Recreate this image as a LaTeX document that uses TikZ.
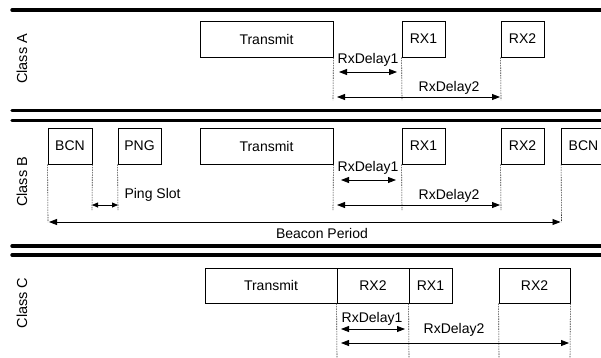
\documentclass[tikz,border=0pt]{standalone}
\usepackage{fontspec}
\setmainfont{Liberation Sans}
\usetikzlibrary{arrows.meta}
\begin{document}
\begin{tikzpicture}[x=1pt,y=-1pt,
  font=\fontsize{14}{16}\selectfont,
  sep/.style={line width=3.4pt,line cap=round},
  slot/.style={draw,line width=0.8pt,inner sep=0pt,minimum height=36pt},
  guide/.style={line width=0.6pt,dash pattern=on 1.5pt off 1pt,black!80},
  dim/.style={line width=0.8pt,{Triangle[length=8pt,width=6pt]}-{Triangle[length=8pt,width=6pt]}},
  cls/.style={rotate=90,font=\fontsize{14.5}{16}\selectfont}]
\useasboundingbox (0,0) rectangle (601,357);
\clip (0,0) rectangle (601,357);
% separators
\coordinate (s1l) at (12,10);    \coordinate (s1r) at (610,10);
\coordinate (s2l) at (12,110.5); \coordinate (s2r) at (610,110.5);
\coordinate (s3l) at (12,120.5); \coordinate (s3r) at (610,120.5);
\coordinate (s4l) at (12,246);   \coordinate (s4r) at (610,246);
\coordinate (s5l) at (12,255);   \coordinate (s5r) at (610,255);
\draw[sep] (s1l) -- (s1r);
\draw[sep] (s2l) -- (s2r);
\draw[sep] (s3l) -- (s3r);
\draw[sep] (s4l) -- (s4r);
\draw[sep] (s5l) -- (s5r);
% class labels
\node[cls] (lA) at (22,59) {Class A};
\node[cls] (lB) at (22,182) {Class B};
\node[cls] (lC) at (22,303) {Class C};
% ---------- Class A ----------
\node[slot,minimum width=133pt] (txA) at (266.5,39) {Transmit};
\node[slot,minimum width=43pt] (rx1A) at (423.5,39) {RX1};
\node[slot,minimum width=43pt] (rx2A) at (522.5,39) {RX2};
\coordinate (gA1) at (333,100); \coordinate (gA2) at (402,100); \coordinate (gA3) at (501,100);
\draw[guide] (txA.south east) -- (gA1);
\draw[guide] (rx1A.south west) -- (gA2);
\draw[guide] (rx2A.south west) -- (gA3);
\coordinate (dA1l) at (339,72); \coordinate (dA1r) at (397,72);
\coordinate (dA2l) at (337,97); \coordinate (dA2r) at (500,97);
\draw[dim] (dA1l) -- (dA1r);
\draw[dim] (dA2l) -- (dA2r);
\node (tA1) at (368,60) {RxDelay1};
\node (tA2) at (449,88) {RxDelay2};
% ---------- Class B ----------
\node[slot,minimum width=44pt] (bcn1) at (70,146) {BCN};
\node[slot,minimum width=43pt] (png) at (139.5,146) {PNG};
\node[slot,minimum width=133pt] (txB) at (266.5,146) {Transmit};
\node[slot,minimum width=43pt] (rx1B) at (423.5,146) {RX1};
\node[slot,minimum width=43pt] (rx2B) at (522.5,146) {RX2};
\node[slot,minimum width=44pt] (bcn2) at (583.5,146) {BCN};
\coordinate (gB1) at (48,222); \coordinate (gB2) at (92,210); \coordinate (gB3) at (118,210);
\coordinate (gB4) at (333,210); \coordinate (gB5) at (402,210); \coordinate (gB6) at (501,210);
\coordinate (gB7) at (561.5,222);
\draw[guide] (bcn1.south west) -- (gB1);
\draw[guide] (bcn1.south east) -- (gB2);
\draw[guide] (png.south west) -- (gB3);
\draw[guide] (txB.south east) -- (gB4);
\draw[guide] (rx1B.south west) -- (gB5);
\draw[guide] (rx2B.south west) -- (gB6);
\draw[guide] (bcn2.south west) -- (gB7);
\coordinate (pl) at (92,205); \coordinate (pr) at (118,205);
\draw[dim,{Triangle[length=6pt,width=5pt]}-{Triangle[length=6pt,width=5pt]}] (pl) -- (pr);
\node[anchor=west] (tP) at (121,195) {Ping Slot};
\coordinate (dB1l) at (341,180); \coordinate (dB1r) at (396,180);
\coordinate (dB2l) at (337,205); \coordinate (dB2r) at (500,205);
\draw[dim] (dB1l) -- (dB1r);
\draw[dim] (dB2l) -- (dB2r);
\node (tB1) at (368,168) {RxDelay1};
\node (tB2) at (449,196) {RxDelay2};
\coordinate (bpl) at (49,222); \coordinate (bpr) at (560.5,222);
\draw[dim] (bpl) -- (bpr);
\node (tBP) at (322,233) {Beacon Period};
% ---------- Class C ----------
\node[slot,minimum width=132pt,minimum height=35pt] (txC) at (271,285.5) {Transmit};
\node[slot,minimum width=72pt,minimum height=35pt] (rx2C) at (373,285.5) {RX2};
\node[slot,minimum width=43pt,minimum height=35pt] (rx1C) at (430.5,285.5) {RX1};
\node[slot,minimum width=71pt,minimum height=35pt] (rx2Cb) at (534.5,285.5) {RX2};
\coordinate (gC1) at (337,360); \coordinate (gC2) at (409,360);
\coordinate (gC3) at (499,360); \coordinate (gC4) at (570,360);
\draw[guide] (rx2C.south west) -- (gC1);
\draw[guide] (rx1C.south west) -- (gC2);
\draw[guide] (rx2Cb.south west) -- (gC3);
\draw[guide] (rx2Cb.south east) -- (gC4);
\coordinate (dC1l) at (341,329); \coordinate (dC1r) at (405,329);
\coordinate (dC2l) at (341,343); \coordinate (dC2r) at (569,343);
\draw[dim] (dC1l) -- (dC1r);
\draw[dim] (dC2l) -- (dC2r);
\node (tC1) at (372,319) {RxDelay1};
\node (tC2) at (454,330) {RxDelay2};
\end{tikzpicture}
\end{document}
